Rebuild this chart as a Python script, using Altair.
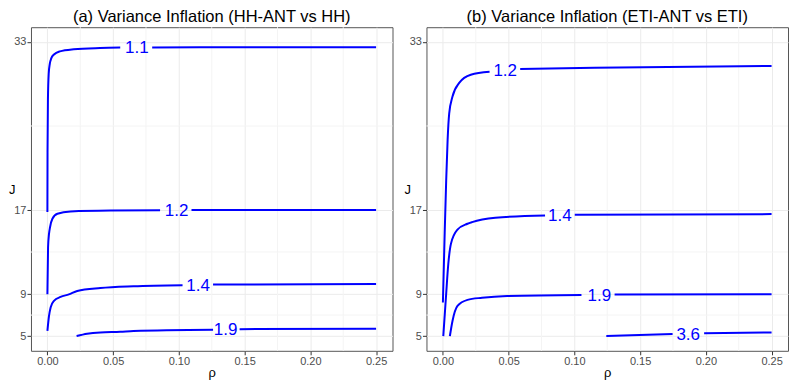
import altair as alt
import pandas as pd

# ---------------- axes ----------------
X_TICKS = [0.0, 0.05, 0.10, 0.15, 0.20, 0.25]
X_MINOR = [0.025, 0.075, 0.125, 0.175, 0.225]
Y_TICKS = [5, 9, 17, 33]
Y_MINOR = [7, 13, 25]
X_DOMAIN = [-0.0125, 0.2625]
Y_DOMAIN = [3.6, 34.4]

TITLE_A = "(a) Variance Inflation (HH-ANT vs HH)"
TITLE_B = "(b) Variance Inflation (ETI-ANT vs ETI)"

# ---------------- panel (a): contour segments (left of label / right of label) ----------------
a11_rho_1 = [0.0, 0.0001, 0.0004, 0.0010, 0.0018, 0.0030, 0.0050, 0.0095, 0.020, 0.040, 0.0554]
a11_J_1 = [16.8, 22.5, 27.5, 30.0, 30.9, 31.45, 31.8, 32.1, 32.3, 32.42, 32.46]
a11_rho_2 = [0.0797, 0.15, 0.25]
a11_J_2 = [32.48, 32.49, 32.49]

a12_rho_1 = [0.0, 0.0005, 0.0012, 0.002, 0.0038, 0.0076, 0.0176, 0.0479, 0.0857]
a12_J_1 = [8.99, 13.45, 14.7, 15.36, 16.17, 16.65, 16.87, 16.96, 16.98]
a12_rho_2 = [0.1096, 0.25]
a12_J_2 = [17.0, 17.0]

a14_rho_1 = [0.0, 0.0012, 0.0025, 0.005, 0.010, 0.0163, 0.0227, 0.0403, 0.0655, 0.1028]
a14_J_1 = [5.5, 6.9, 7.75, 8.35, 8.73, 8.97, 9.3, 9.58, 9.75, 9.85]
a14_rho_2 = [0.126, 0.25]
a14_J_2 = [9.9, 9.95]

a19_rho_1 = [0.0222, 0.0302, 0.0403, 0.0554, 0.0655, 0.126]
a19_J_1 = [5.0, 5.22, 5.35, 5.41, 5.48, 5.6]
a19_rho_2 = [0.1462, 0.25]
a19_J_2 = [5.66, 5.7]

a_labels = ["1.1", "1.2", "1.4", "1.9"]
a_label_rho = [0.068, 0.0983, 0.1146, 0.1355]
a_label_J = [32.47, 16.99, 9.88, 5.63]

# ---------------- panel (b) ----------------
b12_rho_1 = [0.0, 0.0013, 0.0025, 0.0036, 0.0048, 0.0073, 0.0124, 0.0212, 0.0355]
b12_J_1 = [8.2, 14.5, 19.8, 23.7, 26.2, 27.8, 29.1, 29.88, 30.15]
b12_rho_2 = [0.0588, 0.1155, 0.25]
b12_J_2 = [30.42, 30.55, 30.71]

b14_rho_1 = [0.0003, 0.0023, 0.0041, 0.0061, 0.0111, 0.0187, 0.0222, 0.0399, 0.0777]
b14_J_1 = [5.0, 8.67, 11.86, 13.78, 15.14, 15.69, 15.85, 16.26, 16.48]
b14_rho_2 = [0.1003, 0.25]
b14_J_2 = [16.55, 16.61]

b19_rho_1 = [0.0053, 0.0073, 0.0111, 0.0187, 0.0298, 0.0489, 0.1054]
b19_J_1 = [5.0, 6.44, 7.87, 8.45, 8.65, 8.82, 8.92]
b19_rho_2 = [0.1306, 0.25]
b19_J_2 = [8.96, 8.99]

b36_rho_1 = [0.1243, 0.1747]
b36_J_1 = [5.0, 5.19]
b36_rho_2 = [0.1987, 0.25]
b36_J_2 = [5.26, 5.35]

b_labels = ["1.2", "1.4", "1.9", "3.6"]
b_label_rho = [0.0474, 0.089, 0.119, 0.1866]
b_label_J = [30.3, 16.52, 8.95, 5.23]


def lines_frame(segments):
    rows = []
    for seg_id, (rhos, js) in enumerate(segments):
        for i, (r, j) in enumerate(zip(rhos, js)):
            rows.append({"seg": seg_id, "i": i, "rho": r, "J": j})
    return pd.DataFrame(rows)


a_lines = lines_frame([
    (a11_rho_1, a11_J_1), (a11_rho_2, a11_J_2),
    (a12_rho_1, a12_J_1), (a12_rho_2, a12_J_2),
    (a14_rho_1, a14_J_1), (a14_rho_2, a14_J_2),
    (a19_rho_1, a19_J_1), (a19_rho_2, a19_J_2),
])
b_lines = lines_frame([
    (b12_rho_1, b12_J_1), (b12_rho_2, b12_J_2),
    (b14_rho_1, b14_J_1), (b14_rho_2, b14_J_2),
    (b19_rho_1, b19_J_1), (b19_rho_2, b19_J_2),
    (b36_rho_1, b36_J_1), (b36_rho_2, b36_J_2),
])
a_lab = pd.DataFrame({"rho": a_label_rho, "J": a_label_J, "label": a_labels})
b_lab = pd.DataFrame({"rho": b_label_rho, "J": b_label_J, "label": b_labels})

FONT = "Liberation Sans"
BLUE = "#0000FF"

x_enc = alt.X("rho:Q",
              scale=alt.Scale(domain=X_DOMAIN, nice=False, zero=False),
              axis=alt.Axis(values=X_TICKS, format=".2f", title="ρ",
                            labelPadding=1, titlePadding=0))
y_enc = alt.Y("J:Q",
              scale=alt.Scale(domain=Y_DOMAIN, nice=False, zero=False),
              axis=alt.Axis(values=Y_TICKS, title="J", titleAngle=0,
                            titleBaseline="middle", labelPadding=1,
                            titlePadding=2))


def panel(lines, labels, title):
    minor_x = alt.Chart(pd.DataFrame({"rho": X_MINOR})).mark_rule(
        color="#F4F4F4", strokeWidth=1).encode(x=x_enc)
    minor_y = alt.Chart(pd.DataFrame({"J": Y_MINOR})).mark_rule(
        color="#F4F4F4", strokeWidth=1).encode(y=y_enc)
    curves = alt.Chart(lines).mark_line(
        color=BLUE, strokeWidth=2, interpolate="monotone").encode(
        x=x_enc, y=y_enc, detail="seg:N", order="i:Q")
    text = alt.Chart(labels).mark_text(
        color=BLUE, fontSize=17, font=FONT, align="center",
        baseline="middle", dy=1).encode(x=x_enc, y=y_enc, text="label:N")
    return alt.layer(minor_x, minor_y, curves, text).properties(
        width=362, height=324,
        title=alt.TitleParams(title, fontSize=16.5, font=FONT,
                              fontWeight="normal", color="black",
                              anchor="middle", frame="group", offset=1))


chart = alt.hconcat(
    panel(a_lines, a_lab, TITLE_A),
    panel(b_lines, b_lab, TITLE_B),
    spacing=10,
).properties(padding=0).configure_view(
    stroke="#555555", strokeWidth=1
).configure_axis(
    labelFont=FONT, labelFontSize=11, labelColor="#4D4D4D",
    tickColor="#333333", tickSize=4, tickWidth=1, domain=False,
    gridColor="#EBEBEB", gridWidth=1,
    titleFont=FONT, titleFontSize=13, titleFontWeight="normal",
    titleColor="black",
)

chart.save("out.html", embed_options={"renderer": "svg", "actions": False})
